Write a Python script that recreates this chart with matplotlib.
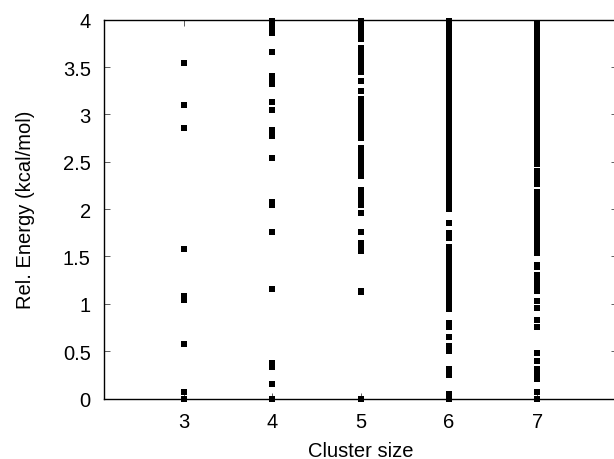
import matplotlib
matplotlib.use("Agg")
import matplotlib.pyplot as plt

plt.rcParams['font.family'] = ['Liberation Sans', 'DejaVu Sans']

sizes = [3, 4, 5, 6, 7]

e3 = [3.54, 3.10, 2.86, 1.58, 1.08, 1.04, 0.58, 0.07, 0.0]

e4 = [3.99, 3.92, 3.86, 3.66, 3.41, 3.36, 3.32, 3.13, 3.05, 2.84, 2.77,
      2.54, 2.08, 2.04, 1.76, 1.16, 0.37, 0.33, 0.15, 0.0]

e5 = [3.99, 3.95, 3.90, 3.85, 3.80, 3.70, 3.65, 3.60, 3.55, 3.50, 3.45,
      3.35, 3.25, 3.16, 3.11, 3.06, 3.01, 2.96, 2.91, 2.86, 2.81, 2.75,
      2.65, 2.60, 2.55, 2.50, 2.45, 2.40, 2.35, 2.20, 2.15, 2.10, 2.04,
      1.96, 1.76, 1.64, 1.59, 1.56, 1.13, 1.12, 0.0]

e6 = [3.99, 3.95, 3.90, 3.85, 3.80, 3.75, 3.70, 3.65, 3.60, 3.55, 3.50,
      3.45, 3.40, 3.35, 3.30, 3.25, 3.20, 3.15, 3.10, 3.05, 3.00, 2.95,
      2.90, 2.85, 2.80, 2.75, 2.70, 2.65, 2.60, 2.55, 2.50, 2.45, 2.40,
      2.35, 2.30, 2.25, 2.20, 2.15, 2.10, 2.05, 2.00, 1.85, 1.75, 1.70,
      1.60, 1.55, 1.50, 1.45, 1.40, 1.35, 1.30, 1.25, 1.20, 1.15, 1.10,
      1.05, 1.00, 0.95, 0.80, 0.75, 0.65, 0.55, 0.50, 0.31, 0.25, 0.05,
      0.0]

e7 = [3.97, 3.92, 3.87, 3.82, 3.77, 3.72, 3.67, 3.62, 3.57, 3.52, 3.47,
      3.42, 3.37, 3.32, 3.27, 3.22, 3.17, 3.12, 3.07, 3.02, 2.97, 2.92,
      2.87, 2.82, 2.77, 2.72, 2.67, 2.62, 2.57, 2.52, 2.48, 2.40, 2.35,
      2.30, 2.26, 2.18, 2.13, 2.08, 2.03, 1.98, 1.93, 1.88, 1.83, 1.78,
      1.73, 1.68, 1.63, 1.58, 1.54, 1.41, 1.39, 1.30, 1.25, 1.20, 1.15,
      1.13, 1.03, 0.96, 0.83, 0.76, 0.48, 0.40, 0.31, 0.26, 0.21, 0.07,
      0.0]

energies = [e3, e4, e5, e6, e7]

fig = plt.figure(figsize=(6.14, 4.6), dpi=100)
ax = fig.add_axes([0.1694, 0.1315, 0.8355, 0.8235])

for n, e in zip(sizes, energies):
    ax.plot([n] * len(e), e, linestyle='none', marker='s', markersize=4.4,
            markeredgewidth=0, color='black', clip_on=False)

ax.set_xlim(2.1, 7.9)
ax.set_ylim(0, 4)
ax.set_xticks(sizes)
ax.set_yticks([0, 0.5, 1, 1.5, 2, 2.5, 3, 3.5, 4])
ax.set_yticklabels(['0', '0.5', '1', '1.5', '2', '2.5', '3', '3.5', '4'])
ax.tick_params(direction='in', top=True, right=True, length=4.5, width=0.6,
               labelsize=14.5, color='#444444')
ax.tick_params(axis='y', pad=9.5)
ax.tick_params(axis='x', pad=10)
for s in ax.spines.values():
    s.set_linewidth(1.0)

ax.set_xlabel("Cluster size", fontsize=14.5, labelpad=7)
ax.set_ylabel("Rel. Energy (kcal/mol)", fontsize=14.5, labelpad=20)

fig.savefig("out.png", dpi=100)
